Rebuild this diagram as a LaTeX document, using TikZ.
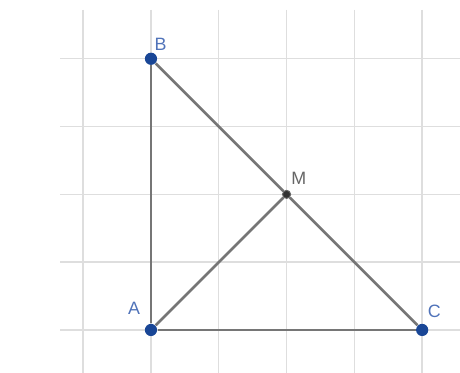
\documentclass[tikz,border=0pt]{standalone}
\usepackage{fontspec}
\setmainfont{Liberation Sans}
\definecolor{ptblue}{RGB}{25,70,150}
\definecolor{lblblue}{RGB}{80,115,185}
\definecolor{gridgray}{RGB}{222,222,222}
\definecolor{edgegray}{RGB}{118,118,118}
\tikzset{
    pt/.style={circle, fill=ptblue, inner sep=0pt, minimum size=0.18cm},
    midpt/.style={circle, fill=black!80, draw=black!60, inner sep=0pt, minimum size=0.12cm},
    lbl/.style={text=lblblue, font=\fontsize{7.5}{9}\selectfont, inner sep=0pt},
    mlbl/.style={text=black!60, font=\fontsize{7.5}{9}\selectfont, inner sep=0pt},
    edge/.style={draw=edgegray, line width=1.1pt}
}

\begin{document}
\begin{tikzpicture}
    \useasboundingbox (-2.227, -0.634) rectangle (4.558, 4.867);
    % grid
    \foreach \x in {-1,...,4}
        \draw[gridgray, line width=0.6pt] (\x, 4.72) -- (\x, -0.634);
    \foreach \y in {0,...,4}
        \draw[gridgray, line width=0.6pt] (-1.34, \y) -- (4.558, \y);

    \node[pt] (A) at (0, 0) {};
    \node[pt] (B) at (0, 4) {};
    \node[pt] (C) at (4, 0) {};
    \node[midpt] (M) at (2, 2) {};
    \node[lbl] (lA) at (-0.25, 0.32) {A};
    \node[lbl] (lB) at (0.14, 4.21) {B};
    \node[lbl] (lC) at (4.18, 0.28) {C};
    \node[mlbl] (lM) at (2.18, 2.24) {M};

    \draw[edge] (A) -- (B);
    \draw[edge] (A) -- (C);
    \draw[edge] (B) -- (M);
    \draw[edge] (M) -- (C);
    \draw[edge] (A) -- (M);
\end{tikzpicture}
\end{document}
